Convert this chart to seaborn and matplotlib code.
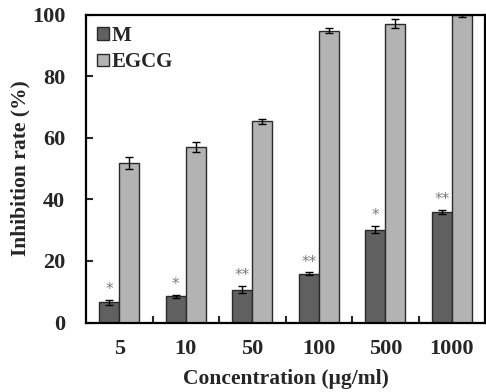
import matplotlib
matplotlib.use("Agg")
import matplotlib.pyplot as plt
from matplotlib.patches import Patch
import seaborn as sns
import pandas as pd
import numpy as np

concentrations = ["5", "10", "50", "100", "500", "1000"]
series_names = ["M", "EGCG"]
m_values = [6.6, 8.5, 10.7, 15.9, 30.2, 35.9]
m_err = [0.8, 0.5, 1.2, 0.4, 1.2, 0.7]
egcg_values = [51.8, 56.9, 65.3, 94.8, 97.0, 99.7]
egcg_err = [1.8, 1.6, 0.9, 0.9, 1.4, 0.6]
m_signif = ["*", "*", "**", "**", "*", "**"]

colors = {"M": "#606060", "EGCG": "#b3b3b3"}

df = pd.DataFrame({
    "Concentration": concentrations * 2,
    "Series": ["M"] * len(concentrations) + ["EGCG"] * len(concentrations),
    "Value": m_values + egcg_values,
})

sns.set_style("ticks")
plt.rcParams["font.family"] = ["Liberation Serif", "DejaVu Serif"]
plt.rcParams["font.weight"] = "bold"

fig = plt.figure(figsize=(4.86, 3.92), dpi=100)
ax = fig.add_axes([0.177, 0.177, 0.821, 0.786])

sns.barplot(data=df, x="Concentration", y="Value", hue="Series",
            order=concentrations, hue_order=series_names, palette=colors,
            width=0.6, edgecolor="#2a2a2a", linewidth=1.0, errorbar=None,
            legend=False, ax=ax)

errs = {"M": m_err, "EGCG": egcg_err}
vals = {"M": m_values, "EGCG": egcg_values}
for cont, name in zip(ax.containers, series_names):
    xs = [p.get_x() + p.get_width() / 2 for p in cont.patches]
    ax.errorbar(xs, vals[name], yerr=errs[name], fmt="none", ecolor="black",
                elinewidth=1.0, capsize=3, capthick=1.0, zorder=5)
    if name == "M":
        for x, v, e, s in zip(xs, m_values, m_err, m_signif):
            ax.text(x, v + e + 0.8, s, ha="center", va="bottom",
                    fontsize=11, color="#7a7a7a", fontweight="normal",
                    family=["DejaVu Sans"])

ax.set_ylim(0, 100)
ax.set_xlim(-0.5, len(concentrations) - 0.5)
ax.set_yticks([0, 20, 40, 60, 80, 100])
ax.set_xticks(range(len(concentrations)))
ax.set_xticklabels(concentrations)
ax.set_xticks(np.arange(0.5, len(concentrations) - 0.5, 1.0), minor=True)

ax.tick_params(axis="x", which="major", length=0, pad=12, labelsize=16)
ax.tick_params(axis="x", which="minor", direction="in", length=5, width=1.5)
ax.tick_params(axis="y", which="major", direction="in", length=5, width=1.5,
               pad=15, labelsize=16)
for lbl in ax.get_xticklabels() + ax.get_yticklabels():
    lbl.set_fontweight("bold")

for sp in ax.spines.values():
    sp.set_visible(True)
    sp.set_linewidth(1.6)
    sp.set_color("black")

ax.set_xlabel("Concentration (μg/ml)", fontsize=15.5, fontweight="bold", labelpad=7)
ax.set_ylabel("Inhibition rate (%)", fontsize=15.5, fontweight="bold", labelpad=1)

handles = [Patch(facecolor=colors[n], edgecolor="#2a2a2a", linewidth=1.0, label=n)
           for n in series_names]
leg = ax.legend(handles=handles, loc="upper left", frameon=False,
                handlelength=0.55, handleheight=0.55, handletextpad=0.15,
                labelspacing=0.3, borderaxespad=0.15,
                prop={"family": "Liberation Serif", "weight": "bold", "size": 15})

fig.savefig("out.png", dpi=100)
